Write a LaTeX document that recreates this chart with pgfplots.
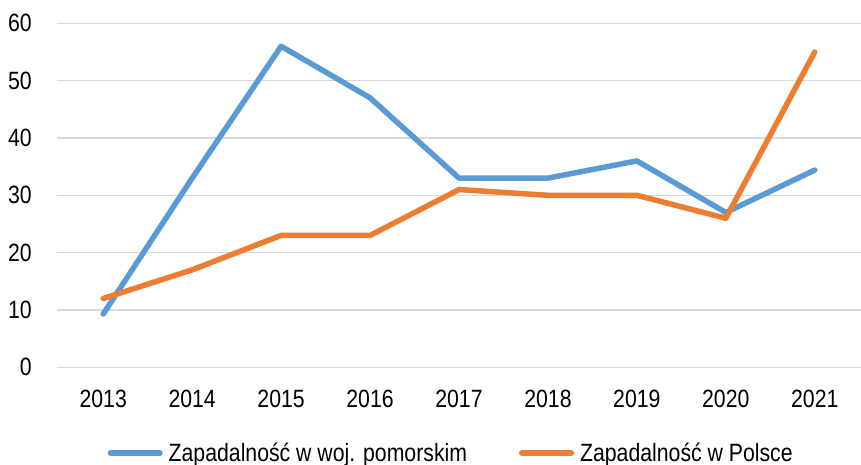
\documentclass[border=0pt]{standalone}
\usepackage{fontspec}
\setmainfont{Liberation Sans}[FakeStretch=0.85]
\usepackage{pgfplots}
\pgfplotsset{compat=1.18}
\definecolor{sblue}{HTML}{5B9BD5}
\definecolor{sorange}{HTML}{ED7D31}
\definecolor{gridgray}{HTML}{D9D9D9}
\begin{document}
\begin{tikzpicture}
\begin{axis}[
    scale only axis,
    width=804pt, height=344pt,
    xmin=-0.52, xmax=8.52,
    ymin=0, ymax=60,
    ytick={0,10,...,60},
    xtick={0,...,8},
    xticklabels={2013,2014,2015,2016,2017,2018,2019,2020,2021},
    axis line style={draw=none},
    major tick length=0pt,
    ymajorgrids=true,
    grid style={gridgray, line width=1.5pt},
    tick label style={font=\fontsize{25}{28}\selectfont, inner sep=0pt},
    /pgf/number format/assume math mode=true,
    yticklabel style={anchor=east, xshift=-25pt},
    xticklabel style={anchor=north, yshift=-22.7pt},
    legend columns=2,
    legend style={at={(0.0628,-0.2535)}, anchor=west, draw=none, inner sep=0pt,
        font=\fontsize{25}{28}\selectfont,
        nodes={inner sep=0pt, anchor=base west, text height=18pt, text depth=5pt},
        column sep=6pt,
        /tikz/every even column/.append style={column sep=52pt}},
    legend image code/.code={\draw[#1, line cap=round] (2.75pt,8pt) -- (52.25pt,8pt);},
    clip=false,
]
% woj. pomorskie
\addplot[sblue, line width=5.5pt, line join=round, line cap=round] coordinates {
    (0,9.3) (1,33) (2,56) (3,47) (4,33) (5,33) (6,36) (7,27) (8,34.4)
};
\addlegendentry{Zapadalność w woj. pomorskim}
% Polska
\addplot[sorange, line width=5.5pt, line join=round, line cap=round] coordinates {
    (0,12) (1,17) (2,23) (3,23) (4,31) (5,30) (6,30) (7,26) (8,55)
};
\addlegendentry{Zapadalność w Polsce}
\end{axis}
\pgfresetboundingbox
\path (current axis.south west) ++(-57pt,-97.7pt) rectangle ++(861pt,465pt);
\end{tikzpicture}
\end{document}
